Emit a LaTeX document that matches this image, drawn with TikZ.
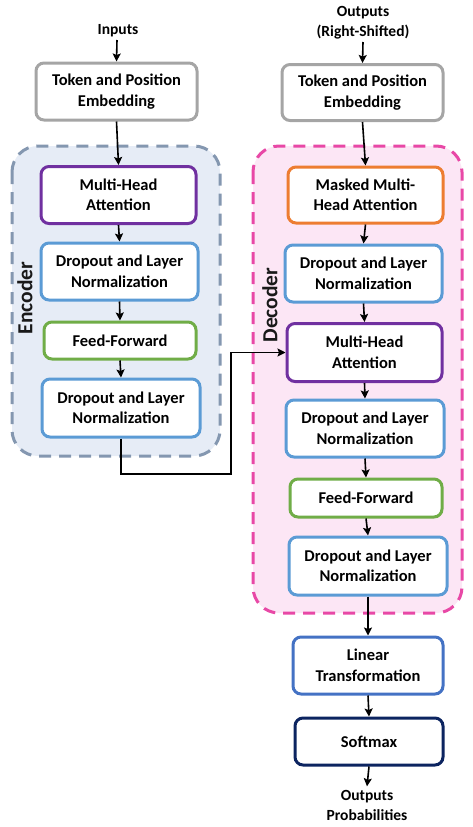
\documentclass[tikz,border=0pt]{standalone}
\usepackage{fontspec}
\setmainfont{Carlito}
\usetikzlibrary{arrows.meta}
\definecolor{cgray}{RGB}{165,165,165}
\definecolor{cpurple}{RGB}{112,48,160}
\definecolor{cblue}{RGB}{91,155,213}
\definecolor{cgreen}{RGB}{112,173,71}
\definecolor{corange}{RGB}{237,125,49}
\definecolor{clin}{RGB}{68,114,196}
\definecolor{cnavy}{RGB}{12,36,96}
\definecolor{encfill}{RGB}{230,236,246}
\definecolor{encline}{RGB}{132,151,176}
\definecolor{decfill}{RGB}{252,230,245}
\definecolor{decline}{RGB}{232,72,166}
\tikzset{
  box/.style={draw, line width=3pt, rounded corners=8pt, fill=white, align=center,
    font=\fontsize{16.5}{20.5}\selectfont\bfseries, inner sep=0pt},
  lbl/.style={align=center, font=\fontsize{15.5}{20}\selectfont\bfseries},
  grp/.style={line width=3pt, dash pattern=on 12pt off 8pt, rounded corners=26pt},
  arr/.style={-{Stealth[length=8pt,width=8pt,inset=1.5pt]}, line width=1.6pt, black},
  side/.style={font=\fontsize{21.5}{24}\selectfont\bfseries, rotate=90, text=black!90}
}
\begin{document}
\begin{tikzpicture}[x=1pt,y=-1pt]
\useasboundingbox (0,0) rectangle (473,827);
% containers
\draw[grp, draw=encline, fill=encfill] (12,146) rectangle (220,456);
\draw[grp, draw=decline, fill=decfill] (253,146) rectangle (462,613);
\node[side] (enclbl) at (25,298) {Encoder};
\node[side] (declbl) at (270,305) {Decoder};
% encoder
\node[lbl] (inp) at (118,31) {Inputs};
\node[box, draw=cgray, minimum width=161pt, minimum height=57pt] (tok1) at (116.5,91.5) {Token and Position\\Embedding};
\node[box, draw=cpurple, minimum width=155pt, minimum height=57pt] (emha) at (118.5,195) {Multi-Head\\Attention};
\node[box, draw=cblue, minimum width=157pt, minimum height=57pt] (edo1) at (119.5,271.5) {Dropout and Layer\\Normalization};
\node[box, draw=cgreen, minimum width=152pt, minimum height=37pt] (eff) at (120,340.5) {Feed-Forward};
\node[box, draw=cblue, minimum width=158pt, minimum height=58pt] (edo2) at (121,408) {Dropout and Layer\\Normalization};
% decoder
\node[lbl] (outp) at (363,23) {Outputs\\(Right-Shifted)};
\node[box, draw=cgray, minimum width=161pt, minimum height=56pt] (tok2) at (362.5,92.5) {Token and Position\\Embedding};
\node[box, draw=corange, minimum width=155pt, minimum height=56pt] (mmha) at (365.5,195) {Masked Multi-\\Head Attention};
\node[box, draw=cblue, minimum width=157pt, minimum height=57pt] (ddo1) at (363.5,273.5) {Dropout and Layer\\Normalization};
\node[box, draw=cpurple, minimum width=155pt, minimum height=58pt] (dmha) at (364.5,352.5) {Multi-Head\\Attention};
\node[box, draw=cblue, minimum width=158pt, minimum height=57pt] (ddo2) at (365,428.5) {Dropout and Layer\\Normalization};
\node[box, draw=cgreen, minimum width=152pt, minimum height=38pt] (dff) at (366,498) {Feed-Forward};
\node[box, draw=cblue, minimum width=158pt, minimum height=58pt] (ddo3) at (368,566) {Dropout and Layer\\Normalization};
\node[box, draw=clin, minimum width=150pt, minimum height=57pt] (lin) at (368,665.5) {Linear\\Transformation};
\node[box, draw=cnavy, minimum width=148pt, minimum height=47pt] (soft) at (369,741.5) {Softmax};
\node[lbl] (prob) at (367,805) {Outputs\\Probabilities};
% arrows encoder
\coordinate (inpa) at (117,40);
\draw[arr] (inpa) -- (tok1.north);
\draw[arr] (tok1.south) -- (emha.north);
\draw[arr] (emha.south) -- (edo1.north);
\draw[arr] (edo1.south) -- (eff.north);
\draw[arr] (eff.south) -- (edo2.north);
\coordinate (jx) at (231,474);
\draw[arr] (edo2.south) |- (jx) |- (dmha.west);
% arrows decoder
\coordinate (outa) at (363,42);
\draw[arr] (outa) -- (tok2.north);
\draw[arr] (tok2.south) -- (mmha.north);
\draw[arr] (mmha.south) -- (ddo1.north);
\draw[arr] (ddo1.south) -- (dmha.north);
\draw[arr] (dmha.south) -- (ddo2.north);
\draw[arr] (ddo2.south) -- (dff.north);
\draw[arr] (dff.south) -- (ddo3.north);
\draw[arr] (ddo3.south) -- (lin.north);
\draw[arr] (lin.south) -- (soft.north);
\draw[arr] (soft.south) -- (prob.north);
\end{tikzpicture}
\end{document}
